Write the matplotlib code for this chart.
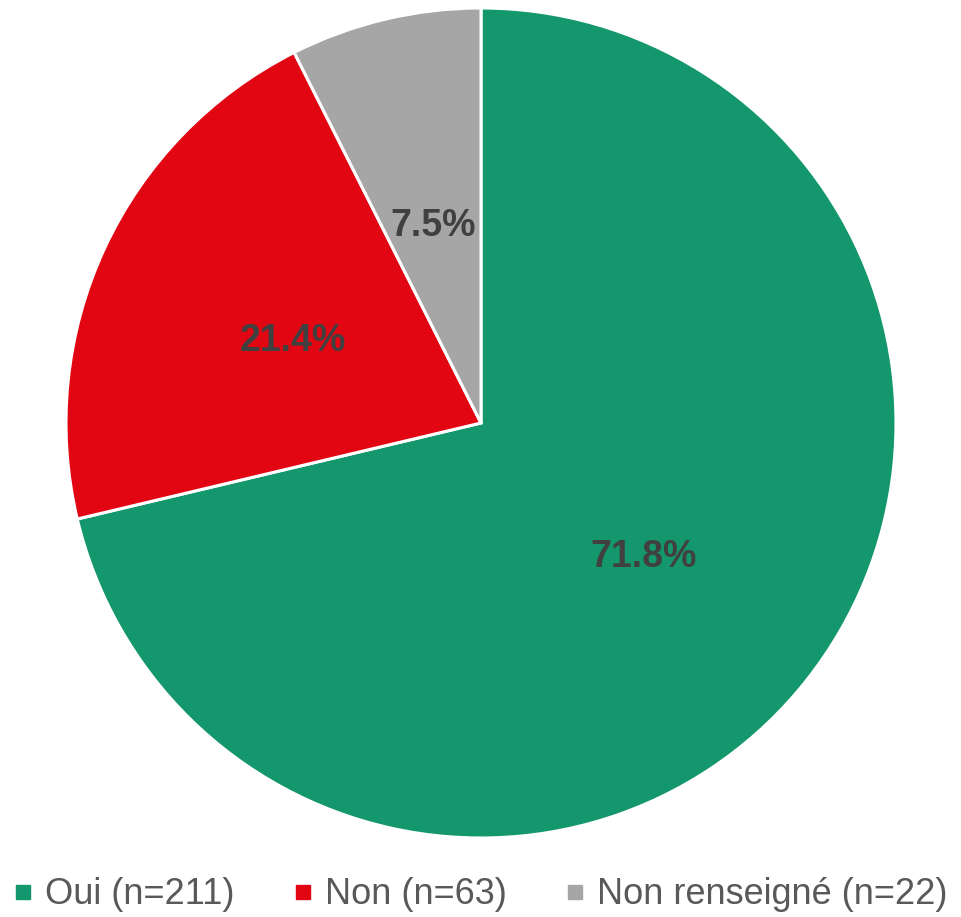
import matplotlib
matplotlib.use("Agg")
import matplotlib.pyplot as plt
from matplotlib.lines import Line2D

plt.rcParams['font.family'] = ['Liberation Sans', 'DejaVu Sans']

# data
categories = ["Oui (n=211)", "Non (n=63)", "Non renseigné (n=22)"]
counts = [211, 63, 22]
pct_labels = ["71.8%", "21.4%", "7.5%"]
colors = ["#14976d", "#e20613", "#a6a6a6"]

fig = plt.figure(figsize=(9.61, 9.17), dpi=100)
ax = fig.add_axes([66 / 961, 79 / 917, 830 / 961, 830 / 917])

wedges, texts = ax.pie(counts, colors=colors, startangle=90, counterclock=False,
                       radius=1, wedgeprops=dict(edgecolor='white', linewidth=2.2),
                       labels=pct_labels, labeldistance=0.5,
                       textprops=dict(color='#404040', fontsize=27, fontweight='bold',
                                      ha='center', va='center'))
for t in texts:
    x, y = t.get_position()
    t.set_position((x, y - 0.012))
ax.set_xlim(-1, 1)
ax.set_ylim(-1, 1)
ax.set_aspect('auto')
ax.axis('off')

handles = [Line2D([0], [0], marker='s', linestyle='none', markersize=10,
                  markerfacecolor=c, markeredgecolor=c) for c in colors]
fig.legend(handles, categories, loc='center', bbox_to_anchor=(0.4995, 1 - 895 / 917),
           ncol=3, frameon=False, fontsize=26, labelcolor='#595959',
           handlelength=0.6, handletextpad=0.3, columnspacing=1.6)

fig.savefig("out.png", dpi=100)
